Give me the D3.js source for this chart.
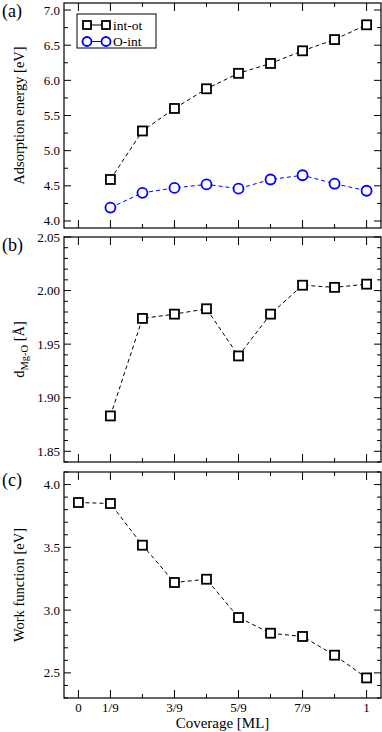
<!DOCTYPE html>
<meta charset="utf-8">
<script src="https://d3js.org/d3.v7.min.js"></script>
<style>
  body { margin: 0; background: #fff; }
</style>
<body>
<div id="chart"></div>
<script>

// coverage in ML (ninths)
const coverage = [0, 1/9, 2/9, 3/9, 4/9, 5/9, 6/9, 7/9, 8/9, 1];
const xTickLabels = ["0", "1/9", "", "3/9", "", "5/9", "", "7/9", "", "1"];

// (a) adsorption energy, from 1/9 ML
const intOt = [4.59, 5.28, 5.60, 5.88, 6.10, 6.24, 6.42, 6.58, 6.79];
const oInt  = [4.19, 4.40, 4.47, 4.52, 4.46, 4.59, 4.65, 4.53, 4.43];
// (b) Mg-O distance, from 1/9 ML
const dMgO  = [1.883, 1.974, 1.978, 1.983, 1.939, 1.978, 2.005, 2.003, 2.006];
// (c) work function, from 0 ML
const workFn = [3.857, 3.849, 3.517, 3.220, 3.246, 2.941, 2.816, 2.790, 2.641, 2.460];

const W = 382, H = 732;
const left = 64, right = 381;
const serif = "'Liberation Serif', 'Times New Roman', serif";

const svg = d3.select("#chart").append("svg")
  .attr("width", W).attr("height", H)
  .attr("font-family", serif);

const x = d3.scaleLinear().domain([-0.05, 1.05]).range([left, right]);

// panels: top/bottom pixel, y domain, major and minor step
const panels = [
  {id: "(a)", top: 3, bottom: 228, domain: [3.9, 7.1], major: 0.5, minor: 0.25, fmt: d3.format(".1f")},
  {id: "(b)", top: 237, bottom: 462, domain: [1.84, 2.05], major: 0.05, minor: 0.01, fmt: d3.format(".2f")},
  {id: "(c)", top: 472, bottom: 698, domain: [2.3, 4.1], major: 0.5, minor: 0.1, fmt: d3.format(".1f")}
];

function ticksBetween(lo, hi, step) {
  const out = [];
  const start = Math.ceil(lo / step - 1e-6);
  for (let i = start; i * step <= hi + 1e-9; i++) out.push(+(i * step).toFixed(4));
  return out;
}

panels.forEach(p => {
  p.y = d3.scaleLinear().domain(p.domain).range([p.bottom, p.top]);
  const g = svg.append("g");

  // frame
  g.append("rect")
    .attr("x", left).attr("y", p.top)
    .attr("width", right - left).attr("height", p.bottom - p.top)
    .attr("fill", "none").attr("stroke", "#000").attr("stroke-width", 1.2);

  // y ticks, left and right
  const majors = ticksBetween(p.domain[0], p.domain[1], p.major);
  const minors = ticksBetween(p.domain[0], p.domain[1], p.minor)
    .filter(v => !majors.some(m => Math.abs(m - v) < 1e-6));
  [[majors, 7], [minors, 4]].forEach(([vals, len]) => {
    g.selectAll(null).data(vals).join("line")
      .attr("x1", left).attr("x2", left + len)
      .attr("y1", d => p.y(d)).attr("y2", d => p.y(d))
      .attr("stroke", "#000");
    g.selectAll(null).data(vals).join("line")
      .attr("x1", right).attr("x2", right - len)
      .attr("y1", d => p.y(d)).attr("y2", d => p.y(d))
      .attr("stroke", "#000");
  });
  g.selectAll(null).data(majors).join("text")
    .attr("x", left - 4).attr("y", d => p.y(d) + 4.5)
    .attr("text-anchor", "end").attr("font-size", 13)
    .text(p.fmt);

  // x ticks, top and bottom
  g.selectAll(null).data(coverage).join("line")
    .attr("x1", d => x(d)).attr("x2", d => x(d))
    .attr("y1", p.bottom).attr("y2", (d, i) => p.bottom - (xTickLabels[i] ? 8 : 4))
    .attr("stroke", "#000");
  g.selectAll(null).data(coverage).join("line")
    .attr("x1", d => x(d)).attr("x2", d => x(d))
    .attr("y1", p.top).attr("y2", (d, i) => p.top + (xTickLabels[i] ? 8 : 4))
    .attr("stroke", "#000");

  // panel label
  svg.append("text")
    .attr("x", 2).attr("y", p.top + 14)
    .attr("font-size", 18)
    .text(p.id);
});

// series helpers
function drawSeries(p, xs, ys, color, shape) {
  const pts = xs.map((d, i) => [x(d), p.y(ys[i])]);
  svg.append("path")
    .attr("d", d3.line()(pts))
    .attr("fill", "none").attr("stroke", color)
    .attr("stroke-width", 1).attr("stroke-dasharray", "4,3");
  if (shape === "square") {
    svg.selectAll(null).data(pts).join("rect")
      .attr("x", d => d[0] - 4.5).attr("y", d => d[1] - 4.5)
      .attr("width", 9).attr("height", 9)
      .attr("fill", "#fff").attr("stroke", color).attr("stroke-width", 1.8);
  } else {
    svg.selectAll(null).data(pts).join("circle")
      .attr("cx", d => d[0]).attr("cy", d => d[1]).attr("r", 5)
      .attr("fill", "#fff").attr("stroke", color).attr("stroke-width", 1.8);
  }
}

const blue = "#0000ff";
drawSeries(panels[0], coverage.slice(1), intOt, "#000", "square");
drawSeries(panels[0], coverage.slice(1), oInt, blue, "circle");
drawSeries(panels[1], coverage.slice(1), dMgO, "#000", "square");
drawSeries(panels[2], coverage, workFn, "#000", "square");

// legend
const lg = svg.append("g");
lg.append("rect").attr("x", 77).attr("y", 14).attr("width", 79).attr("height", 34)
  .attr("fill", "#fff").attr("stroke", "#000").attr("stroke-width", 1);
[["int-ot", "#000", "square", 25], ["O-int", blue, "circle", 41.5]].forEach(([name, c, shape, yy]) => {
  lg.append("line").attr("x1", 87).attr("x2", 106).attr("y1", yy).attr("y2", yy)
    .attr("stroke", c).attr("stroke-width", 1);
  [87, 106].forEach(xx => {
    if (shape === "square") {
      lg.append("rect").attr("x", xx - 4).attr("y", yy - 4).attr("width", 8).attr("height", 8)
        .attr("fill", "#fff").attr("stroke", c).attr("stroke-width", 1.8);
    } else {
      lg.append("circle").attr("cx", xx).attr("cy", yy).attr("r", 4.5)
        .attr("fill", "#fff").attr("stroke", c).attr("stroke-width", 1.8);
    }
  });
  lg.append("text").attr("x", 113).attr("y", yy + 4.5).attr("font-size", 13.5).text(name);
});

// x tick labels and title
svg.selectAll(null).data(coverage).join("text")
  .attr("x", d => x(d)).attr("y", 712)
  .attr("text-anchor", "middle").attr("font-size", 13)
  .text((d, i) => xTickLabels[i]);
svg.append("text").attr("x", (left + right) / 2).attr("y", 728)
  .attr("text-anchor", "middle").attr("font-size", 15)
  .text("Coverage [ML]");

// y titles
function yTitle(p, cx) {
  return svg.append("text")
    .attr("transform", `translate(${cx},${(p.top + p.bottom) / 2}) rotate(-90)`)
    .attr("text-anchor", "middle").attr("font-size", 14.5);
}
yTitle(panels[0], 24).text("Adsorption energy [eV]");
const tb = yTitle(panels[1], 24);
tb.append("tspan").text("d");
tb.append("tspan").attr("font-size", 10.5).attr("dy", 4).text("Mg-O");
tb.append("tspan").attr("dy", -4).text(" [Å]");
yTitle(panels[2], 24).text("Work function [eV]");

</script>
</body>
